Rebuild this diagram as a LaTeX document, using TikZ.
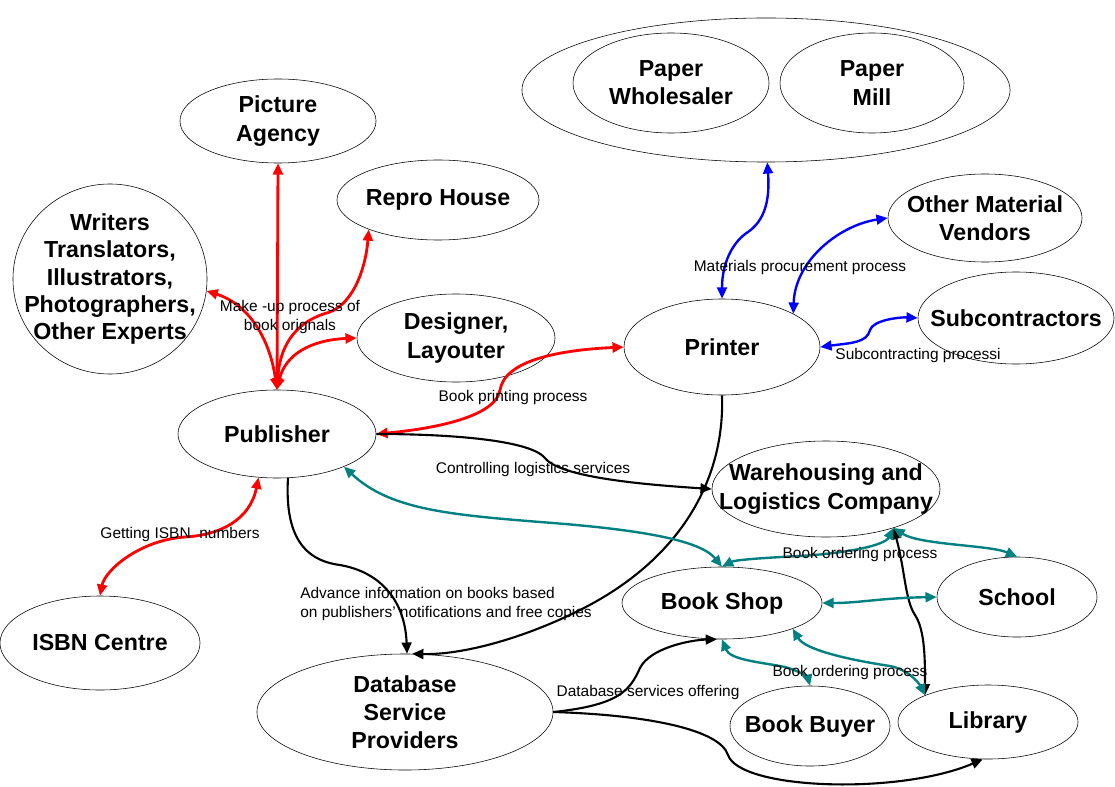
\documentclass[tikz,border=0pt]{standalone}
\usepackage{fontspec}
\setmainfont{Liberation Sans}
\usetikzlibrary{shapes.geometric,arrows.meta}

\begin{document}
\begin{tikzpicture}[x=0.025cm,y=-0.025cm,>={Triangle[length=8pt,width=7pt]},
  proc/.style={draw,ellipse,inner xsep=-1cm,inner ysep=0pt,align=center,
    font=\fontsize{16.5}{20}\selectfont\bfseries},
  lbl/.style={font=\fontsize{11}{13.5}\selectfont,align=center,inner sep=0pt},
  mk/.style={red,line width=2pt},
  lg/.style={black,line width=1.5pt},
  od/.style={teal,line width=1.7pt},
  mt/.style={blue,line width=1.7pt}]
\useasboundingbox (0,0) rectangle (1115,787);
% paper suppliers
\node[proc,minimum width=12.2cm,minimum height=3.6cm] (pap) at (766,90) {};
\node[proc,minimum width=4.9cm,minimum height=2.5cm] (pw) at (671,83) {Paper\\Wholesaler};
\node[proc,minimum width=4.6cm,minimum height=2.5cm] (pm) at (872,83) {Paper\\Mill};
% actors
\node[proc,minimum width=4.9cm,minimum height=2.1cm] (pic) at (278,121) {Picture\\Agency};
\node[proc,minimum width=5.05cm,minimum height=2cm] (rep) at (438,200) {Repro House};
\node[proc,minimum width=4.85cm,minimum height=4.75cm,font=\fontsize{16.5}{19.3}\selectfont\bfseries]
  (wri) at (110,279)
  {Writers\\Translators,\\Illustrators,\\Photographers,\\Other Experts};
\node[proc,minimum width=4.95cm,minimum height=2.2cm] (des) at (456,338) {Designer,\\Layouter};
\node[proc,minimum width=4.9cm,minimum height=2.4cm] (pri) at (722,347) {Printer};
\node[proc,minimum width=4.85cm,minimum height=2.2cm] (omv) at (985,218) {Other Material\\Vendors};
\node[proc,minimum width=4.9cm,minimum height=2.3cm] (sub) at (1016,318) {Subcontractors};
\node[proc,minimum width=4.95cm,minimum height=2.2cm] (pub) at (277,434) {Publisher};
\node[proc,minimum width=5.7cm,minimum height=2.4cm] (war) at (826,489) {Warehousing and\\Logistics Company};
\node[proc,minimum width=5cm,minimum height=2.35cm] (isbn) at (100,643) {ISBN Centre};
\node[proc,minimum width=5cm,minimum height=1.8cm] (bs) at (722,603) {Book Shop};
\node[proc,minimum width=4cm,minimum height=2cm] (sch) at (1017,597) {School};
\node[proc,minimum width=7.4cm,minimum height=2.9cm] (db) at (405,712) {Database\\Service\\Providers};
\node[proc,minimum width=4cm,minimum height=2cm] (bb) at (810,726) {Book Buyer};
\node[proc,minimum width=4.5cm,minimum height=1.85cm] (lib) at (988,722) {Library};
% make-up process
\draw[mk,<->] (pub.north) -- (pic.south);
\draw[mk,<->] (pub.north) .. controls (280,340) and (300,320) .. (330,312)
  .. controls (355,302) and (366,265) .. (rep.203);
\draw[mk,<->] (pub.north) .. controls (270,340) and (250,305) .. (wri.353);
\draw[mk,<->] (pub.north) .. controls (285,355) and (310,340) .. (des.west);
\node[lbl] (mklbl) at (290,317) {Make -up process of\\book orignals};
% printing and ISBN
\draw[mk,<->] (pri.west) .. controls (560,350) and (505,360) .. (500,390)
  .. controls (495,420) and (420,430) .. (pub.east);
\node[lbl] (prlbl) at (513,397) {Book printing process};
\draw[mk,<->] (pub.247) .. controls (250,520) and (220,535) .. (185,537)
  .. controls (140,540) and (105,570) .. (isbn.north);
\node[lbl] (islbl) at (180,534) {Getting ISBN\ \ numbers};
% logistics and information
\draw[lg,->] (pub.east) .. controls (450,434) and (530,440) .. (545,458)
  .. controls (560,478) and (650,485) .. (war.west);
\node[lbl] (lglbl) at (533,469) {Controlling logistics services};
\draw[lg,->] (pub.284) .. controls (285,530) and (300,560) .. (340,565)
  .. controls (380,572) and (405,600) .. (db.88);
\node[lbl,align=left,anchor=west] (adlbl) at (300,604)
  {Advance information on books based\\on publishers’ notifications and free copies};
\draw[lg,->] (pri.south) .. controls (725,480) and (680,560) .. (580,610)
  .. controls (520,640) and (460,655) .. (db.83);
\draw[lg,->] (db.east) .. controls (620,705) and (630,690) .. (640,668)
  .. controls (650,648) and (690,640) .. (bs.262);
\node[lbl] (dblbl) at (648,692) {Database services offering};
\draw[lg,->] (db.east) .. controls (650,715) and (720,730) .. (728,755)
  .. controls (740,790) and (900,795) .. (lib.262);
\draw[lg,<->] (war.330) .. controls (905,570) and (905,600) .. (915,615)
  .. controls (925,630) and (925,660) .. (lib.157);
% book ordering
\draw[od,<->] (pub.334) .. controls (390,510) and (450,515) .. (553,523)
  .. controls (640,530) and (700,540) .. (bs.north);
\draw[od,<->] (war.330) .. controls (885,545) and (850,553) .. (800,556)
  .. controls (760,558) and (735,560) .. (bs.north);
\draw[od,<->] (war.330) .. controls (920,545) and (990,545) .. (sch.north);
\draw[od,<->] (bs.east) .. controls (860,603) and (880,598) .. (sch.west);
\draw[od,<->] (bs.south) .. controls (730,660) and (760,662) .. (785,667)
  .. controls (800,671) and (808,678) .. (bb.north);
\draw[od,<->] (bs.340) .. controls (805,650) and (850,660) .. (890,666)
  .. controls (910,670) and (920,685) .. (lib.157);
\node[lbl] (oalbl) at (860,554) {Book ordering process};
\node[lbl] (oblbl) at (850,672) {Book ordering process};
% materials and subcontracting
\draw[mt,<->] (pri.north) .. controls (722,260) and (735,240) .. (748,232)
  .. controls (765,220) and (770,200) .. (pap.271);
\draw[mt,<->] (pri.25) .. controls (795,260) and (840,225) .. (omv.west);
\node[lbl] (mtlbl) at (800,268) {Materials procurement process};
\draw[mt,<->] (pri.east) .. controls (850,343) and (867,343) .. (870,330)
  .. controls (873,320) and (900,317) .. (sub.west);
\node[lbl] (sclbl) at (918,355) {Subcontracting processi};
\end{tikzpicture}
\end{document}
